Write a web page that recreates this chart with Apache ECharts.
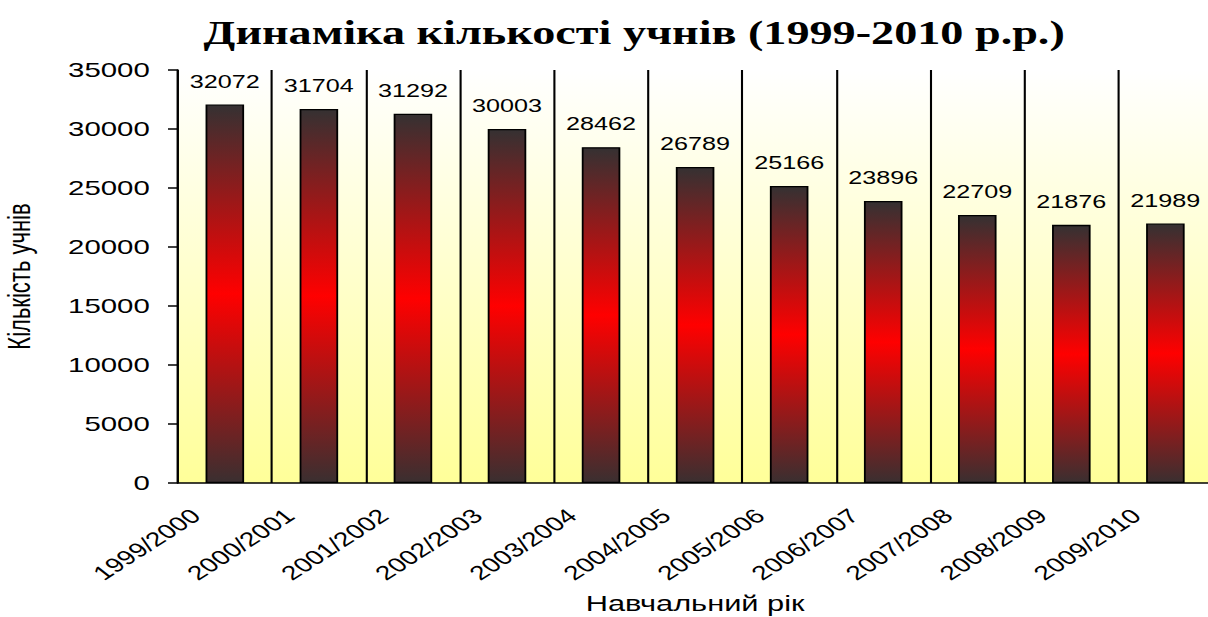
<!DOCTYPE html>
<html>
<head>
<meta charset="utf-8">
<title>Динаміка кількості учнів</title>
<script src="https://cdn.jsdelivr.net/npm/echarts@6/dist/echarts.min.js"></script>
<style>
    html, body { margin: 0; padding: 0; background: #fff; overflow: hidden; }
    /* the original picture is stretched sideways, so the chart is drawn narrower and scaled */
    #chart { width: 863px; height: 617px; transform: scaleX(1.4); transform-origin: 0 0; }
</style>
</head>
<body>
<div id="chart"></div>
<script>
const years = ["1999/2000", "2000/2001", "2001/2002", "2002/2003", "2003/2004", "2004/2005",
    "2005/2006", "2006/2007", "2007/2008", "2008/2009", "2009/2010"];
const pupils = [32072, 31704, 31292, 30003, 28462, 26789, 25166, 23896, 22709, 21876, 21989];

const chartTitle = "Динаміка кількості учнів (1999-2010 р.р.)";
const xName = "Навчальний рік";
const yName = "Кількість учнів";

document.addEventListener("DOMContentLoaded", function () {
    const chartDom = document.getElementById("chart");
    const myChart = echarts.init(chartDom, null, { renderer: "svg" });

    const barColor = new echarts.graphic.LinearGradient(0, 0, 0, 1, [
        { offset: 0, color: "#353132" },
        { offset: 0.5, color: "#ff0000" },
        { offset: 1, color: "#3a2f30" }
    ]);

    const option = {
        animation: false,
        title: {
            text: chartTitle,
            left: 448,
            top: 11,
            textAlign: "center",
            textStyle: { fontFamily: "Liberation Serif", fontWeight: "bold", fontSize: 33, color: "#000" }
        },
        grid: {
            left: 127,
            top: 70,
            width: 739,
            height: 413,
            outerBoundsMode: "none",
            containLabel: false,
            show: true,
            borderWidth: 0,
            backgroundColor: new echarts.graphic.LinearGradient(0, 0, 0, 1, [
                { offset: 0, color: "#ffffff" },
                { offset: 1, color: "#ffff99" }
            ])
        },
        xAxis: {
            type: "category",
            data: years,
            boundaryGap: true,
            name: xName,
            nameLocation: "middle",
            nameGap: 110,
            nameTextStyle: { fontFamily: "Liberation Sans", fontSize: 22, color: "#000" },
            axisLine: { lineStyle: { color: "#000", width: 1.5 } },
            axisTick: { length: 7, lineStyle: { color: "#000", width: 1.5 } },
            splitLine: { show: true, lineStyle: { color: "#000", width: 1.5 } },
            axisLabel: {
                rotate: 42,
                margin: 11,
                padding: [0, 28, 0, 0],
                interval: 0,
                fontFamily: "Liberation Sans",
                fontSize: 20,
                color: "#000"
            }
        },
        yAxis: {
            type: "value",
            min: 0,
            max: 35000,
            interval: 5000,
            name: yName,
            nameLocation: "middle",
            nameGap: 102,
            nameTextStyle: { fontFamily: "Liberation Sans", fontSize: 22, color: "#000" },
            axisLine: { show: true, lineStyle: { color: "#000", width: 1.5 } },
            axisTick: { show: true, length: 7, lineStyle: { color: "#000", width: 1.5 } },
            splitLine: { show: false },
            axisLabel: {
                margin: 20,
                formatter: function (v) { return String(v); },
                fontFamily: "Liberation Sans",
                fontSize: 21,
                color: "#000"
            }
        },
        series: [
            {
                name: yName,
                type: "bar",
                data: pupils,
                barWidth: "41%",
                itemStyle: { color: barColor, borderColor: "#000", borderWidth: 1.3 },
                label: {
                    show: true,
                    position: "top",
                    distance: 14,
                    fontFamily: "Liberation Sans",
                    fontSize: 18,
                    color: "#000"
                }
            }
        ]
    };

    myChart.setOption(option);
});
</script>
</body>
</html>
